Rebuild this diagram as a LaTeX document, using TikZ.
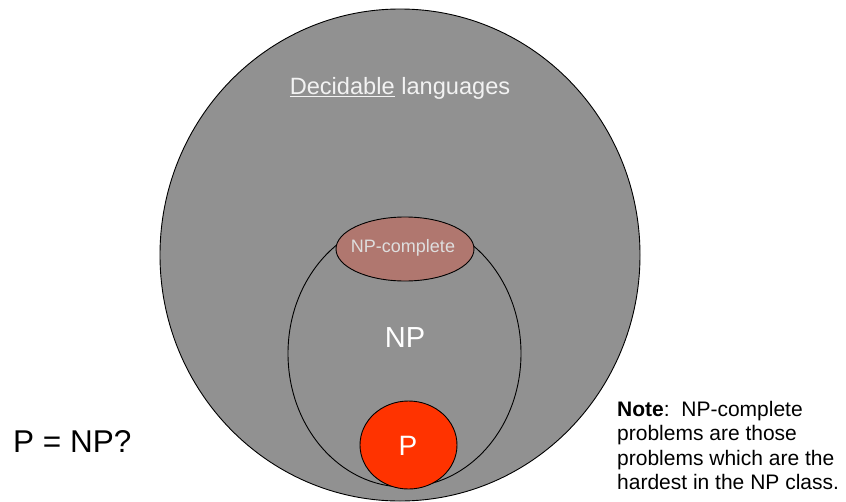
\documentclass[tikz,border=0pt]{standalone}
\usepackage{fontspec}
\setmainfont{Liberation Sans}
\usetikzlibrary{shapes.geometric}
\definecolor{setgray}{RGB}{145,145,145}
\definecolor{npcfill}{RGB}{176,119,111}
\definecolor{pfill}{RGB}{255,51,0}
\definecolor{lighttext}{RGB}{242,242,242}
\definecolor{npctext}{RGB}{222,222,222}
\tikzset{
  region/.style={ellipse, draw=black, line width=0.9pt, inner sep=0pt},
  label/.style={inner sep=0pt, font=\fontsize{#1}{#1}\selectfont},
  label/.default=22
}
\begin{document}
\begin{tikzpicture}[x=1pt, y=-1pt]
  \useasboundingbox (0,0) rectangle (846,501);
  % nested complexity classes
  \node[region, fill=setgray, minimum width=480pt, minimum height=492pt] (dec) at (400,255) {};
  \node[region, fill=setgray, minimum width=233pt, minimum height=267pt] (np) at (404.5,353.5) {};
  \node[region, fill=npcfill, minimum width=138pt, minimum height=64pt] (npc) at (405,249) {};
  \node[region, fill=pfill, minimum width=97pt, minimum height=88pt] (p) at (408.5,445) {};
  % class names
  \node[label=23.6, text=lighttext] (declabel) at (400,88.5) {\underline{Decidable} languages};
  \node[label=29, text=white] (nplabel) at (405,338) {NP};
  \node[label=18, text=npctext] (npclabel) at (403,248) {NP-complete};
  \node[label=28, text=white] (plabel) at (408,446) {P};
  % side texts
  \node[label=31.5, anchor=west] (question) at (13,441) {P = NP?};
  \node[inner sep=0pt, anchor=north west, align=left,
        font=\fontsize{21}{24.5}\selectfont] (note) at (617,401)
    {\textbf{Note}:\ \ NP-complete\\problems are those\\problems which are the\\hardest in the NP class.};
\end{tikzpicture}
\end{document}
